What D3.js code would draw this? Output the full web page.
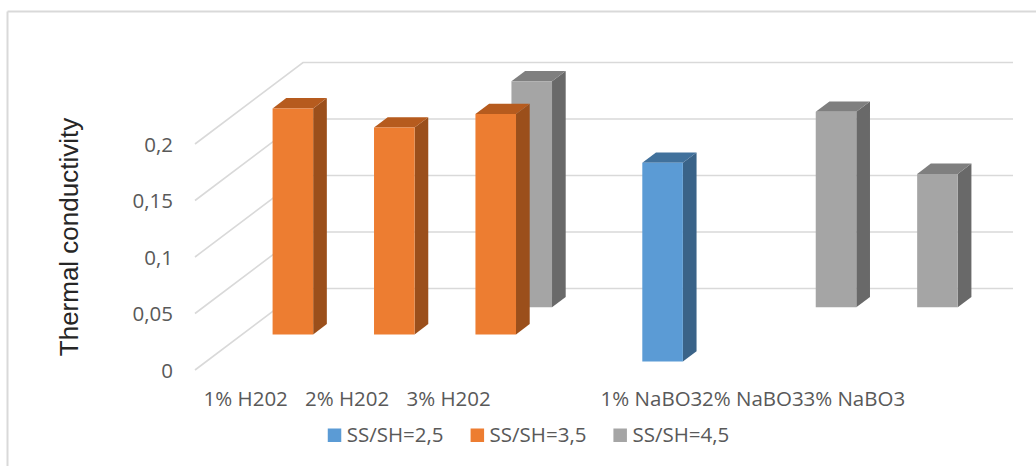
<!DOCTYPE html>
<html>
<head>
<meta charset="utf-8">
<script src="https://cdn.jsdelivr.net/npm/d3@7"></script>
<style>
  html, body { margin: 0; padding: 0; background: #fff; }
  svg { display: block; }
</style>
</head>
<body>
<svg id="chart" width="1036" height="466"></svg>
<script>
// Categories along the x axis (the fourth slot is an empty spacer category)
const categories = ["1% H202", "2% H202", "3% H202", "", "1% NaBO3", "2% NaBO3", "3% NaBO3"];
// Series, front row to back row
const seriesNames = ["SS/SH=2,5", "SS/SH=3,5", "SS/SH=4,5"];
const ss25 = [null, null, null, null, 0.176, null, null];
const ss35 = [0.2, 0.183, 0.195, null, null, null, null];
const ss45 = [null, null, 0.2, null, null, 0.173, 0.118];
const yTicks = [0, 0.05, 0.1, 0.15, 0.2];
const yTitle = "Thermal conductivity";

const seriesValues = [ss25, ss35, ss45];
const faceColors = [
  { front: "#5B9BD5", top: "#41719C", side: "#3A6388" },
  { front: "#ED7D31", top: "#B65B1E", side: "#9B4F1B" },
  { front: "#A5A5A5", top: "#7F7F7F", side: "#696969" }
];

const svg = d3.select("#chart");
const W = 1036, H = 466;

// chart area border (top and left edges visible)
svg.append("line").attr("x1", 7.5).attr("y1", 11.5).attr("x2", W).attr("y2", 11.5)
  .attr("stroke", "#D9D9D9").attr("stroke-width", 2);
svg.append("line").attr("x1", 7.5).attr("y1", 11.5).attr("x2", 7.5).attr("y2", H)
  .attr("stroke", "#D9D9D9").attr("stroke-width", 2);

// oblique projection: depth runs up and to the right
const depthX = 108, depthY = 81.5;
const x = d3.scaleBand().domain(d3.range(categories.length)).range([195, 905])
  .paddingInner(0.6).paddingOuter(0.3);
const y = d3.scaleLinear().domain([0, 0.2]).range([370, 144]);
const floorLeft = 195, floorRight = 905;

// depth position of each row's front and back faces (fraction of total depth)
const rowCount = seriesValues.length;
const rowFront = i => (i + 0.31) / rowCount;
const rowBack = i => (i + 0.69) / rowCount;
const proj = (px, py, d) => [px + depthX * d, py - depthY * d];

// gridlines: side wall diagonals and back wall horizontals
const grid = svg.append("g").attr("stroke", "#D9D9D9").attr("fill", "none");
yTicks.forEach(v => {
  const p0 = [floorLeft, y(v)];
  const p1 = proj(floorLeft, y(v), 1);
  const p2 = proj(floorRight, y(v), 1);
  grid.append("path")
    .attr("d", d3.line()([p0, p1, p2]))
    .attr("stroke-width", 1.6);
});

// y axis labels with comma decimal separator
const locale = d3.formatLocale({ decimal: ",", thousands: " ", grouping: [3], currency: ["", ""] });
const fmt = locale.format("~g");
const yAxis = svg.append("g").attr("transform", "translate(176,0)")
  .call(d3.axisLeft(y).tickValues(yTicks).tickFormat(fmt).tickSize(0).tickPadding(3));
yAxis.select(".domain").remove();
yAxis.selectAll("text")
  .attr("font-family", "'Open Sans', sans-serif").attr("font-size", 20.5)
  .attr("fill", "#595959").attr("dy", "0.36em");

// x axis labels at the front edge of the floor
const xAxis = svg.append("g").attr("transform", "translate(0,391)")
  .call(d3.axisBottom(x).tickFormat(i => categories[i]).tickSize(0).tickPadding(0));
xAxis.select(".domain").remove();
xAxis.selectAll("text")
  .attr("font-family", "'Open Sans', sans-serif").attr("font-size", 20.5)
  .attr("fill", "#595959").attr("dy", "0.72em");

// 3D bars: back row first so nearer rows overlap it
const bars = svg.append("g");
for (let s = rowCount - 1; s >= 0; s--) {
  const vals = seriesValues[s];
  const c = faceColors[s];
  const d0 = rowFront(s), d1 = rowBack(s);
  vals.forEach((v, i) => {
    if (v == null) return;
    const xl = x(i), xr = x(i) + x.bandwidth();
    const yb = y(0), yt = y(v);
    const FL = proj(xl, yt, d0), FR = proj(xr, yt, d0);
    const FBL = proj(xl, yb, d0), FBR = proj(xr, yb, d0);
    const BL = proj(xl, yt, d1), BR = proj(xr, yt, d1);
    const BBR = proj(xr, yb, d1);
    const g = bars.append("g");
    // right side face
    g.append("path").attr("d", d3.line()([FR, BR, BBR, FBR]) + "Z").attr("fill", c.side);
    // top face
    g.append("path").attr("d", d3.line()([FL, FR, BR, BL]) + "Z").attr("fill", c.top);
    // front face
    g.append("path").attr("d", d3.line()([FL, FR, FBR, FBL]) + "Z").attr("fill", c.front);
  });
}

// y axis title
svg.append("text")
  .attr("transform", "translate(78,237) rotate(-90)")
  .attr("text-anchor", "middle")
  .attr("font-family", "'Liberation Sans', Arial, sans-serif")
  .attr("font-size", 26)
  .attr("fill", "#262626")
  .text(yTitle);

// legend, centred below the categories
const legend = svg.append("g");
let lx = 0;
const items = [];
seriesNames.forEach((name, i) => {
  const g = legend.append("g");
  g.append("rect").attr("x", 0).attr("y", -13.5).attr("width", 13.5).attr("height", 13.5)
    .attr("fill", faceColors[i].front);
  const t = g.append("text").attr("x", 19).attr("y", 0)
    .attr("font-family", "'Open Sans', sans-serif").attr("font-size", 20.5)
    .attr("fill", "#595959").text(name);
  const w = 19 + t.node().getComputedTextLength();
  items.push({ g, w });
});
const gap = 27;
const total = d3.sum(items, d => d.w) + gap * (items.length - 1);
let cx = 528.5 - total / 2;
items.forEach(it => {
  it.g.attr("transform", `translate(${cx},442)`);
  cx += it.w + gap;
});
</script>
</body>
</html>
